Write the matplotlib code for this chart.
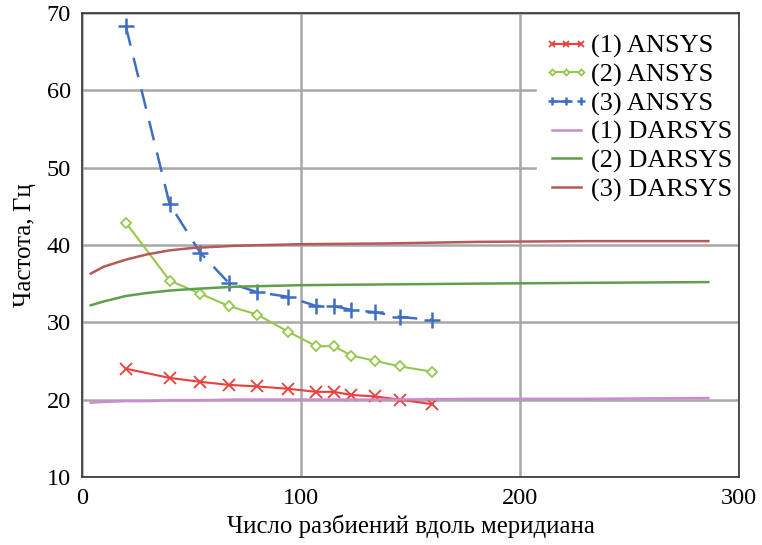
import matplotlib
matplotlib.use("Agg")
import matplotlib.pyplot as plt

plt.rcParams['font.family'] = ['Liberation Serif', 'DejaVu Serif']

# ANSYS расчёты (точки)
x_ansys = [20, 40, 54, 67, 80, 94, 107, 115, 123, 134, 145, 160]
f1_ansys = [24.0, 22.8, 22.3, 21.9, 21.7, 21.4, 21.0, 21.0, 20.6, 20.4, 20.0, 19.4]
f2_ansys = [42.9, 35.4, 33.7, 32.1, 31.0, 28.8, 26.9, 26.9, 25.7, 25.0, 24.3, 23.6]
f3_ansys = [68.3, 45.3, 39.0, 35.1, 33.9, 33.3, 32.1, 32.1, 31.6, 31.3, 30.7, 30.3]

# DARSYS расчёты (кривые)
x_darsys = [4, 10, 20, 30, 40, 50, 70, 100, 140, 180, 230, 286]
f1_darsys = [19.6, 19.7, 19.8, 19.8, 19.9, 19.9, 20.0, 20.0, 20.0, 20.1, 20.1, 20.2]
f2_darsys = [32.2, 32.7, 33.4, 33.8, 34.1, 34.3, 34.6, 34.8, 34.9, 35.0, 35.1, 35.2]
f3_darsys = [36.3, 37.2, 38.1, 38.8, 39.3, 39.6, 39.9, 40.1, 40.2, 40.4, 40.5, 40.5]

fig = plt.figure(figsize=(7.62, 5.45), dpi=100)
ax = fig.add_axes([0.1076, 0.125, 0.8622, 0.851])

ax.plot(x_ansys, f1_ansys, color='#e8403c', marker='x', ms=9, mew=1.3, lw=1.5, label='(1) ANSYS')
ax.plot(x_ansys, f2_ansys, color='#96c84e', marker='D', ms=5.5, mfc='white', mew=1.3, lw=1.5, label='(2) ANSYS')
ax.plot(x_ansys, f3_ansys, color='#3f6fc2', marker='+', ms=11, mew=1.8, lw=1.8,
        ls=(0, (8, 5)), label='(3) ANSYS')
ax.plot(x_darsys, f1_darsys, color='#cc8ccc', lw=1.8, label='(1) DARSYS')
ax.plot(x_darsys, f2_darsys, color='#5ea04a', lw=1.8, label='(2) DARSYS')
ax.plot(x_darsys, f3_darsys, color='#b45a58', lw=1.8, label='(3) DARSYS')

ax.set_xlim(0, 300)
ax.set_ylim(10, 70)
ax.set_xticks([0, 100, 200, 300])
ax.set_yticks(range(10, 71, 10))
ax.grid(True, color='#a8a8a8', lw=1.8)
ax.set_axisbelow(True)
for s in ax.spines.values():
    s.set_color('#333333')
    s.set_linewidth(1.2)
    s.set_zorder(6)
ax.tick_params(labelsize=17.5, length=0, pad=8)

ax.set_xlabel('Число разбиений вдоль меридиана', fontsize=17.8, labelpad=4)
ax.set_ylabel('Частота, Гц', fontsize=18, labelpad=8)

leg = ax.legend(loc='upper right', bbox_to_anchor=(1.0, 0.968), fontsize=19, frameon=True,
                fancybox=False, numpoints=3, handlelength=1.7, handletextpad=0.1,
                labelspacing=0.18, borderaxespad=0, borderpad=0.25, markerscale=0.55)
leg.get_frame().set_edgecolor('white')
leg.get_frame().set_alpha(1)

fig.savefig('out.png', dpi=100)
